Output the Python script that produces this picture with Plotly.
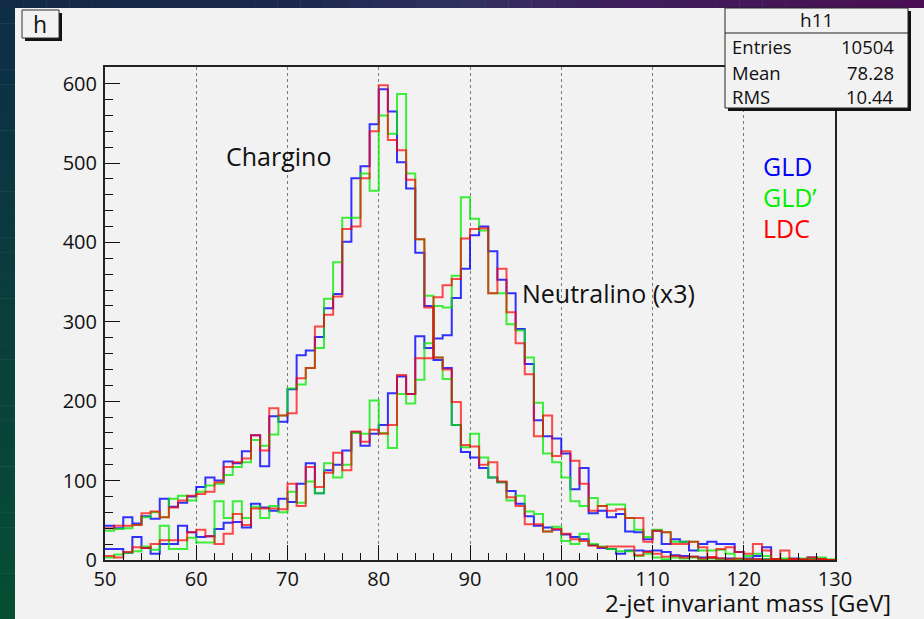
import plotly.graph_objects as go

# ---------------- data (1 GeV bins, 50..130 GeV) ----------------
bin_edges = list(range(50, 131))

chargino_gld = [43, 40, 54, 46, 55, 52, 77, 67, 72, 80,
                92, 104, 100, 124, 122, 137, 157, 118, 181, 174,
                215, 258, 264, 281, 317, 335, 401, 481, 496, 549,
                593, 565, 501, 468, 387, 320, 252, 242, 170, 136,
                129, 116, 104, 98, 87, 71, 55, 43, 41, 38,
                32, 29, 26, 19, 15, 14, 8, 12, 12, 11,
                12, 10, 6, 5, 4, 3, 3, 2, 2, 1,
                2, 1, 1, 1, 0, 1, 0, 1, 0, 0]

chargino_gldp = [37, 39, 40, 44, 54, 60, 54, 77, 81, 75,
                 86, 94, 96, 107, 117, 123, 151, 144, 158, 182,
                 216, 221, 242, 267, 329, 375, 431, 431, 487, 465,
                 560, 537, 587, 487, 404, 333, 255, 228, 170, 142,
                 159, 129, 104, 98, 75, 81, 61, 58, 36, 42,
                 24, 20, 33, 20, 17, 14, 11, 11, 5, 8,
                 3, 1, 3, 2, 3, 1, 2, 1, 0, 1,
                 1, 0, 1, 0, 1, 0, 0, 1, 0, 0]

chargino_ldc = [40, 43, 43, 44, 59, 61, 54, 66, 75, 81,
                83, 86, 98, 117, 123, 128, 157, 138, 191, 182,
                185, 229, 242, 294, 309, 332, 417, 420, 481, 540,
                598, 529, 516, 479, 404, 318, 255, 240, 199, 145,
                143, 120, 123, 99, 79, 68, 45, 45, 36, 39,
                33, 26, 24, 18, 16, 17, 17, 17, 6, 10,
                8, 4, 5, 3, 4, 2, 3, 2, 1, 2,
                1, 1, 0, 1, 0, 1, 0, 0, 1, 0]

# neutralino, already scaled x3 as displayed
neutralino_gld = [14, 14, 9, 29, 15, 8, 20, 20, 43, 35,
                  29, 30, 39, 47, 48, 41, 71, 66, 62, 77,
                  73, 96, 122, 84, 113, 120, 138, 161, 144, 159,
                  170, 210, 231, 209, 282, 267, 279, 283, 330, 367,
                  409, 420, 389, 353, 336, 291, 247, 176, 156, 153,
                  134, 89, 116, 59, 62, 54, 58, 36, 35, 26,
                  37, 20, 26, 23, 12, 20, 23, 20, 20, 10,
                  1, 5, 16, 1, 0, 2, 1, 3, 1, 0]

neutralino_gldp = [3, 7, 9, 11, 17, 13, 43, 14, 14, 28,
                   22, 22, 74, 53, 74, 53, 67, 53, 68, 60,
                   86, 72, 99, 84, 122, 104, 120, 160, 159, 201,
                   160, 141, 209, 197, 227, 273, 320, 318, 358, 457,
                   430, 415, 336, 336, 297, 289, 255, 198, 134, 123,
                   104, 74, 68, 78, 68, 70, 70, 53, 38, 29,
                   38, 35, 23, 23, 23, 12, 12, 13, 8, 0,
                   5, 8, 5, 1, 2, 1, 2, 2, 3, 1]

neutralino_ldc = [5, 3, 10, 16, 15, 20, 25, 25, 25, 35,
                  38, 30, 20, 33, 58, 44, 65, 65, 65, 64,
                  96, 68, 117, 92, 110, 135, 113, 162, 149, 164,
                  159, 170, 233, 209, 254, 254, 331, 346, 354, 405,
                  417, 418, 336, 367, 312, 273, 234, 156, 182, 131,
                  137, 125, 96, 62, 68, 62, 64, 53, 53, 23,
                  37, 35, 20, 20, 23, 16, 3, 14, 16, 10,
                  8, 20, 12, 1, 12, 1, 1, 3, 1, 0]

detectors = ["GLD", "GLD\u2019", "LDC"]
colors = ["rgba(0,0,255,0.8)", "rgba(0,235,0,0.75)", "rgba(255,0,0,0.7)"]
text_colors = ["#0000ff", "#00ee00", "#ff0000"]

stats_title = "h11"
stats_labels = ["Entries", "Mean", "RMS"]
stats_values = ["10504", "78.28", "10.44"]

x_ticks = [50, 60, 70, 80, 90, 100, 110, 120, 130]
y_ticks = [0, 100, 200, 300, 400, 500, 600]

# ---------------- layout geometry ----------------
W, H = 924, 619
L, R, T, B = 105, 835, 67, 560
CANVAS = "#f2f2f2"
FONT = "Open Sans"


def px(x):
    return (x - L) / (R - L)


def py(y):
    return (B - y) / (B - T)


fig = go.Figure()

series = [(chargino_gld, neutralino_gld), (chargino_gldp, neutralino_gldp),
          (chargino_ldc, neutralino_ldc)]
for (ch, ne), name, col in zip(series, detectors, colors):
    for vals in (ch, ne):
        fig.add_trace(go.Scatter(
            x=bin_edges, y=list(vals) + [vals[-1]],
            mode="lines", line=dict(shape="hv", color=col, width=2),
            name=name, showlegend=False, hoverinfo="skip"))

shapes = []


def rect(x0, y0, x1, y1, fill, line_color=None, lw=0, layer="above"):
    shapes.append(dict(type="rect", xref="paper", yref="paper",
                       x0=px(x0), x1=px(x1), y0=py(y1), y1=py(y0),
                       fillcolor=fill, layer=layer,
                       line=dict(color=line_color or fill, width=lw)))


def lerp(c0, c1, t):
    return tuple(int(round(a + (b - a) * t)) for a, b in zip(c0, c1))


# dark slide border (top strip gradient)
top_keys = [(0, (18, 42, 68)), (300, (28, 40, 78)), (470, (50, 50, 95)),
            (620, (62, 30, 92)), (924, (74, 14, 84))]
n_seg = 40
for i in range(n_seg):
    x0 = W * i / n_seg
    x1 = W * (i + 1) / n_seg
    xm = (x0 + x1) / 2
    for (ka, ca), (kb, cb) in zip(top_keys[:-1], top_keys[1:]):
        if ka <= xm <= kb:
            c = lerp(ca, cb, (xm - ka) / (kb - ka))
            break
    rect(x0, 0, x1 + 0.5, 8, "rgb(%d,%d,%d)" % c, layer="below")
# left strip gradient
for i in range(n_seg):
    y0 = 8 + (H - 8) * i / n_seg
    y1 = 8 + (H - 8) * (i + 1) / n_seg
    c = lerp((14, 46, 70), (6, 78, 52), i / (n_seg - 1))
    rect(0, y0, 15, y1 + 0.5, "rgb(%d,%d,%d)" % c, layer="below")

# "h" title box with shadow
rect(25, 13, 62, 41, "#111111")
rect(22, 10, 59, 38, CANVAS, "#333333", 1)
# stats box with shadow
rect(728, 11, 911, 111, "#111111")
rect(725, 8, 908, 108, CANVAS, "#222222", 1)
shapes.append(dict(type="line", xref="paper", yref="paper",
                   x0=px(725), x1=px(908), y0=py(33), y1=py(33),
                   line=dict(color="#222222", width=1), layer="above"))

annotations = []


def text(x, y, s, size, color="#111111", xanchor="center"):
    annotations.append(dict(xref="paper", yref="paper", x=px(x), y=py(y),
                            text=s, showarrow=False, xanchor=xanchor,
                            yanchor="middle",
                            font=dict(family=FONT, size=size, color=color)))


text(40, 24, "h", 23)
text(816, 20, stats_title, 19)
for i, (lab, val) in enumerate(zip(stats_labels, stats_values)):
    yy = 47 + 25 * i
    text(730, yy, lab, 18.5, xanchor="left")
    text(896, yy, val, 18.5, xanchor="right")

text(224, 156, "Chargino", 25, xanchor="left")
text(520, 293, "Neutralino (x3)", 25, xanchor="left")
for i, (name, col) in enumerate(zip(detectors, text_colors)):
    text(761, 166 + 31 * i, name, 25, color=col, xanchor="left")
text(893, 602, "2-jet invariant mass [GeV]", 24, xanchor="right")

fig.update_layout(
    width=W, height=H,
    margin=dict(l=L, r=W - R, t=T, b=H - B, pad=0),
    paper_bgcolor=CANVAS, plot_bgcolor=CANVAS,
    shapes=shapes, annotations=annotations,
    showlegend=False,
    font=dict(family=FONT, color="#111111"),
    xaxis=dict(range=[50, 130], tickvals=x_ticks, ticks="inside", ticklen=15,
               tickwidth=1, tickcolor="#111111",
               minor=dict(dtick=2, ticks="inside", ticklen=7, tickcolor="#111111",
                          showgrid=False),
               showgrid=True, gridcolor="#7a7a7a", griddash="dot", gridwidth=1,
               showline=True, linecolor="#222222", linewidth=2, mirror=True,
               zeroline=False, tickfont=dict(size=20, family=FONT, color="#111111"),
               ticklabelstandoff=0),
    yaxis=dict(range=[0, 621], tickvals=y_ticks, ticks="inside", ticklen=15,
               tickwidth=1, tickcolor="#111111",
               minor=dict(dtick=20, ticks="inside", ticklen=8, tickcolor="#111111",
                          showgrid=False),
               showgrid=False, showline=True, linecolor="#222222", linewidth=2,
               mirror=True, zeroline=False,
               tickfont=dict(size=20, family=FONT, color="#111111"),
               ticklabelstandoff=2),
)

fig.write_html("out.html",
               config={"displayModeBar": False},
               post_script="document.body.style.margin='0';"
                           "document.body.style.overflow='hidden';")
